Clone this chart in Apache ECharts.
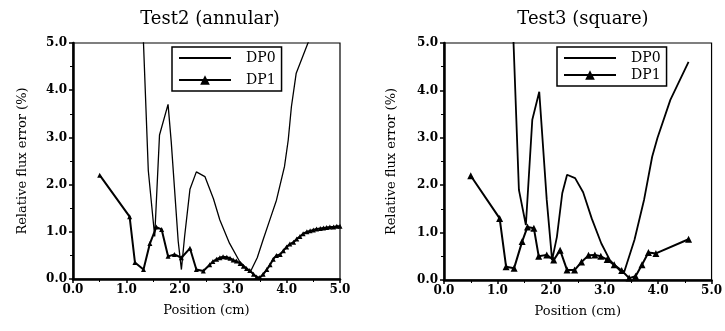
<!DOCTYPE html>
<html><head><meta charset="utf-8">
<script src="https://cdn.jsdelivr.net/npm/echarts@6/dist/echarts.min.js"></script>
<style>html,body{margin:0;padding:0;background:#fff}#c{width:725px;height:331px}</style>
</head><body><div id="c"></div>
<script>
const titles = ['Test2 (annular)', 'Test3 (square)'];
const xTicks = [0, 1, 2, 3, 4, 5];
const yTicks = [0, 1, 2, 3, 4, 5];
// Test2 (annular)
const t2_dp0_x = [1.30,1.41,1.53,1.62,1.78,1.84,1.97,2.03,2.09,2.19,2.31,2.47,2.63,2.75,2.93,3.12,3.32,3.45,3.56,3.70,3.81,3.96,4.03,4.09,4.18,4.40,4.46];
const t2_dp0_y = [5.6,2.3,0.9,3.05,3.7,2.9,0.8,0.2,0.9,1.9,2.27,2.17,1.7,1.25,0.76,0.37,0.15,0.45,0.83,1.3,1.67,2.38,2.94,3.65,4.36,5.0,5.2];
const t2_dp1_x = [0.5,1.06,1.16,1.32,1.44,1.56,1.66,1.78,1.9,2.03,2.19,2.31,2.44,2.56,2.62,2.69,2.75,2.81,2.88,2.94,3.0,3.06,3.13,3.19,3.25,3.31,3.38,3.44,3.5,3.56,3.63,3.69,3.75,3.81,3.88,3.94,4.0,4.06,4.13,4.19,4.25,4.31,4.38,4.44,4.5,4.56,4.63,4.69,4.75,4.81,4.88,4.94,5.0];
const t2_dp1_y = [2.2,1.32,0.35,0.2,0.75,1.1,1.05,0.48,0.52,0.45,0.65,0.2,0.17,0.3,0.37,0.42,0.45,0.47,0.46,0.44,0.4,0.38,0.33,0.27,0.22,0.18,0.1,0.04,0.03,0.1,0.2,0.3,0.42,0.5,0.52,0.6,0.68,0.74,0.78,0.85,0.9,0.96,1.0,1.02,1.04,1.06,1.07,1.08,1.09,1.1,1.1,1.12,1.12];
// Test3 (square)
const t3_dp0_x = [1.28,1.40,1.53,1.65,1.78,1.92,2.02,2.11,2.21,2.30,2.45,2.60,2.76,2.94,3.10,3.28,3.37,3.56,3.74,3.89,3.99,4.23,4.57];
const t3_dp0_y = [5.6,1.9,1.16,3.38,3.97,1.69,0.42,0.91,1.83,2.22,2.15,1.85,1.3,0.77,0.42,0.21,0.18,0.85,1.7,2.6,3.0,3.8,4.6];
const t3_dp1_x = [0.5,1.04,1.16,1.31,1.46,1.56,1.68,1.77,1.92,2.05,2.17,2.3,2.44,2.57,2.7,2.82,2.93,3.05,3.18,3.32,3.46,3.58,3.7,3.82,3.96,4.57];
const t3_dp1_y = [2.2,1.3,0.28,0.25,0.81,1.12,1.09,0.5,0.53,0.42,0.63,0.21,0.21,0.38,0.52,0.53,0.5,0.43,0.32,0.2,0.04,0.08,0.32,0.58,0.56,0.86];

const zip = (xs, ys) => xs.map((x, i) => [x, ys[i]]);
const serif = '"DejaVu Serif", "Liberation Serif", serif';
const grids = [
  {left: 73, top: 43, width: 267, height: 236},
  {left: 444, top: 43, width: 271, height: 237}
];
const mkX = (i) => ({
  type: 'value', gridIndex: i, min: 0, max: 5, interval: 1,
  name: 'Position (cm)', nameLocation: 'middle', nameGap: 25,
  nameTextStyle: {fontFamily: serif, fontSize: 13, color: '#000'},
  axisLine: {onZero: false, lineStyle: {color: '#000', width: 2.5}},
  axisTick: {show: true, length: 4, lineStyle: {color: '#000', width: 1.5}},
  minorTick: {show: true, splitNumber: 2, length: 3, lineStyle: {color: '#000'}},
  axisLabel: {fontFamily: serif, fontSize: 12, fontWeight: 'bold', color: '#000', margin: 5,
    formatter: v => v.toFixed(1)},
  splitLine: {show: false}
});
const mkY = (i, gap) => ({
  type: 'value', gridIndex: i, min: 0, max: 5, interval: 1,
  name: 'Relative flux error (%)', nameLocation: 'middle', nameGap: gap,
  nameTextStyle: {fontFamily: serif, fontSize: 13, color: '#000'},
  axisLine: {onZero: false, lineStyle: {color: '#000', width: 2.5}},
  axisTick: {show: true, length: 4, lineStyle: {color: '#000', width: 1.5}},
  minorTick: {show: true, splitNumber: 2, length: 3, lineStyle: {color: '#000'}},
  axisLabel: {fontFamily: serif, fontSize: 12, fontWeight: 'bold', color: '#000', margin: 6,
    formatter: v => v.toFixed(1)},
  splitLine: {show: false}
});
const line = (name, data, i, w, sym, ss) => ({
  name, type: 'line', xAxisIndex: i, yAxisIndex: i, data,
  symbol: sym, symbolSize: ss, showSymbol: sym !== 'none',
  lineStyle: {color: '#000', width: w}, itemStyle: {color: '#000'},
  clip: true, animation: false
});
const lineIcon = 'path://M0,0L100,0L100,3.5L0,3.5Z';
const legend = (left, top, gap, names) => ({
  orient: 'vertical', left, top, itemGap: gap,
  data: [{name: names[0], icon: lineIcon}, {name: names[1]}],
  itemWidth: 52, itemHeight: 12, padding: [4, 6, 4, 6], symbolKeepAspect: true,
  borderColor: '#000', borderWidth: 1.5, backgroundColor: '#fff',
  formatter: n => n.trim(),
  textStyle: {fontFamily: serif, fontSize: 14, color: '#000', padding: [0, 0, 0, 10]},
  selectedMode: false
});
const chart = echarts.init(document.getElementById('c'));
chart.setOption({
  backgroundColor: '#fff',
  animation: false,
  title: [
    {text: titles[0], left: 205, top: 5, textAlign: 'center', textStyle: {fontFamily: serif, fontSize: 18, fontWeight: 'normal', color: '#000'}},
    {text: titles[1], left: 578, top: 5, textAlign: 'center', textStyle: {fontFamily: serif, fontSize: 18, fontWeight: 'normal', color: '#000'}}
  ],
  grid: grids.map(g => Object.assign({show: true, borderColor: '#000', borderWidth: 1.2, backgroundColor: 'transparent'}, g)),
  xAxis: [mkX(0), mkX(1)],
  yAxis: [mkY(0, 44), mkY(1, 46)],
  legend: [legend(172, 47, 8, ['DP0', 'DP1']), legend(557, 47, 3, ['DP0 ', 'DP1 '])],
  series: [
    line('DP0', zip(t2_dp0_x, t2_dp0_y), 0, 1.3, 'none', 0),
    line('DP1', zip(t2_dp1_x, t2_dp1_y), 0, 2, 'triangle', 5),
    line('DP0 ', zip(t3_dp0_x, t3_dp0_y), 1, 1.8, 'none', 0),
    line('DP1 ', zip(t3_dp1_x, t3_dp1_y), 1, 2, 'triangle', 7)
  ]
});
</script></body></html>
